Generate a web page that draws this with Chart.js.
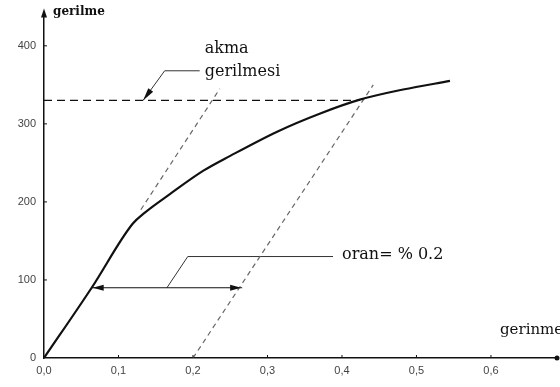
<!DOCTYPE html>
<html>
<head>
<meta charset="utf-8">
<script src="https://cdn.jsdelivr.net/npm/chart.js@4.4.1/dist/chart.umd.min.js"></script>
<style>
  html, body { margin: 0; padding: 0; background: #fff; }
  #wrap { width: 560px; height: 387px; }
</style>
</head>
<body>
<div id="wrap"><canvas id="stressChart"></canvas></div>
<script>
// stress-strain curve (gerinme %, gerilme)
const strain = [0, 0.064, 0.119, 0.135, 0.169, 0.214, 0.25, 0.313, 0.37, 0.424, 0.482, 0.545];
const stress = [0, 90, 172, 186, 210, 240, 259, 290, 313, 331, 344, 355];

// elastic slope lines (dashed)
const elasticX = [0.13, 0.236];
const elasticY = [190, 345];
const offsetX = [0.2, 0.442];
const offsetY = [0, 350];

// yield stress level
const yieldX = [0, 0.424];
const yieldY = [330, 330];

// 0.2% offset arrow
const arrowX = [0.064, 0.266];
const arrowY = [90, 90];

// leader lines
const akmaLeadX = [0.133, 0.162, 0.209];
const akmaLeadY = [330, 368, 368];
const oranLeadX = [0.165, 0.193, 0.388];
const oranLeadY = [90, 130, 130];

const xTicks = [0, 0.1, 0.2, 0.3, 0.4, 0.5, 0.6];
const xTickLabels = ['0,0', '0,1', '0,2', '0,3', '0,4', '0,5', '0,6'];
const yTicks = [0, 100, 200, 300, 400];

const pts = (xs, ys) => xs.map((x, i) => ({ x: x, y: ys[i] }));

const line = (data, opts) => Object.assign({
  data: data,
  borderColor: '#111',
  borderWidth: 1.2,
  pointRadius: 0,
  fill: false,
  tension: 0
}, opts);

const serif = '"DejaVu Serif", "Liberation Serif", serif';

// axis arrows, arrowheads and text labels
const decorations = {
  id: 'decorations',
  afterDraw(chart) {
    const ctx = chart.ctx;
    const xs = chart.scales.x, ys = chart.scales.y;
    const area = chart.chartArea;
    const px = v => xs.getPixelForValue(v);
    const py = v => ys.getPixelForValue(v);

    ctx.save();
    ctx.fillStyle = '#111';
    ctx.strokeStyle = '#111';

    // y axis arrow head
    ctx.beginPath();
    ctx.moveTo(area.left, area.top - 6);
    ctx.lineTo(area.left - 3, area.top + 3);
    ctx.lineTo(area.left + 3, area.top + 3);
    ctx.closePath();
    ctx.fill();

    // x axis end dot
    ctx.beginPath();
    ctx.arc(area.right - 1, area.bottom, 2.5, 0, Math.PI * 2);
    ctx.fill();

    // double arrow heads
    const ay = py(arrowY[0]);
    const a0 = px(arrowX[0]), a1 = px(arrowX[1]);
    ctx.beginPath();
    ctx.moveTo(a0 + 1, ay);
    ctx.lineTo(a0 + 12, ay - 3);
    ctx.lineTo(a0 + 12, ay + 3);
    ctx.closePath();
    ctx.fill();
    ctx.beginPath();
    ctx.moveTo(a1 - 1, ay);
    ctx.lineTo(a1 - 12, ay - 3);
    ctx.lineTo(a1 - 12, ay + 3);
    ctx.closePath();
    ctx.fill();

    // akma leader arrow head
    const lx0 = px(akmaLeadX[0]), ly0 = py(akmaLeadY[0]);
    const lx1 = px(akmaLeadX[1]), ly1 = py(akmaLeadY[1]);
    const ang = Math.atan2(ly0 - ly1, lx0 - lx1);
    ctx.translate(lx0, ly0);
    ctx.rotate(ang);
    ctx.beginPath();
    ctx.moveTo(0, 0);
    ctx.lineTo(-13, -3);
    ctx.lineTo(-13, 3);
    ctx.closePath();
    ctx.fill();
    ctx.setTransform(1, 0, 0, 1, 0, 0);

    // ticks pointing inward
    ctx.lineWidth = 1;
    xTicks.forEach(v => {
      if (v === 0) return;
      ctx.beginPath();
      ctx.moveTo(px(v), area.bottom);
      ctx.lineTo(px(v), area.bottom - 3);
      ctx.stroke();
    });
    yTicks.forEach(v => {
      if (v === 0) return;
      ctx.beginPath();
      ctx.moveTo(area.left, py(v));
      ctx.lineTo(area.left + 3, py(v));
      ctx.stroke();
    });

    // texts
    ctx.fillStyle = '#111';
    ctx.textBaseline = 'middle';
    ctx.textAlign = 'left';
    ctx.font = 'bold 12px ' + serif;
    ctx.fillText('gerilme', area.left + 9, 12);
    ctx.font = '15px ' + serif;
    ctx.fillText('gerinme', 500, 330);
    ctx.font = '16px ' + serif;
    ctx.fillText('akma', px(akmaLeadX[2]) + 5, py(akmaLeadY[2]) - 22);
    ctx.fillText('gerilmesi', px(akmaLeadX[2]) + 5, py(akmaLeadY[2]) + 1);
    ctx.fillText('oran= % 0.2', px(oranLeadX[2]) + 9, py(oranLeadY[2]) - 2);
    ctx.restore();
  }
};

new Chart(document.getElementById('stressChart'), {
  type: 'line',
  data: {
    datasets: [
      line(pts(strain, stress), { borderWidth: 2.2, cubicInterpolationMode: 'monotone' }),
      line(pts(elasticX, elasticY), { borderColor: '#666', borderDash: [5, 4] }),
      line(pts(offsetX, offsetY), { borderColor: '#666', borderDash: [5, 4] }),
      line(pts(yieldX, yieldY), { borderDash: [8, 5] }),
      line(pts(arrowX, arrowY), {}),
      line(pts(akmaLeadX, akmaLeadY), { borderColor: '#333', borderWidth: 1 }),
      line(pts(oranLeadX, oranLeadY), { borderColor: '#333', borderWidth: 1 })
    ]
  },
  options: {
    responsive: true,
    maintainAspectRatio: false,
    animation: false,
    layout: { padding: { top: 12, right: 2, left: 0, bottom: 0 } },
    plugins: {
      legend: { display: false },
      tooltip: { enabled: false }
    },
    scales: {
      x: {
        type: 'linear',
        min: 0,
        max: 0.69,
        grid: { display: false, drawTicks: false },
        border: { color: '#111', width: 1.5 },
        afterBuildTicks: s => { s.ticks = xTicks.map(v => ({ value: v })); },
        afterFit: s => { s.height = 29; },
        ticks: {
          padding: 6,
          color: '#444',
          font: { family: '"Liberation Sans", sans-serif', size: 11 },
          callback: (v) => xTickLabels[xTicks.indexOf(v)]
        }
      },
      y: {
        min: 0,
        max: 440,
        grid: { display: false, drawTicks: false },
        border: { color: '#111', width: 1.5 },
        afterBuildTicks: s => { s.ticks = yTicks.map(v => ({ value: v })); },
        afterFit: s => { s.width = 44; },
        ticks: {
          padding: 8,
          color: '#444',
          font: { family: '"Liberation Sans", sans-serif', size: 11 }
        }
      }
    }
  },
  plugins: [decorations]
});
</script>
</body>
</html>
